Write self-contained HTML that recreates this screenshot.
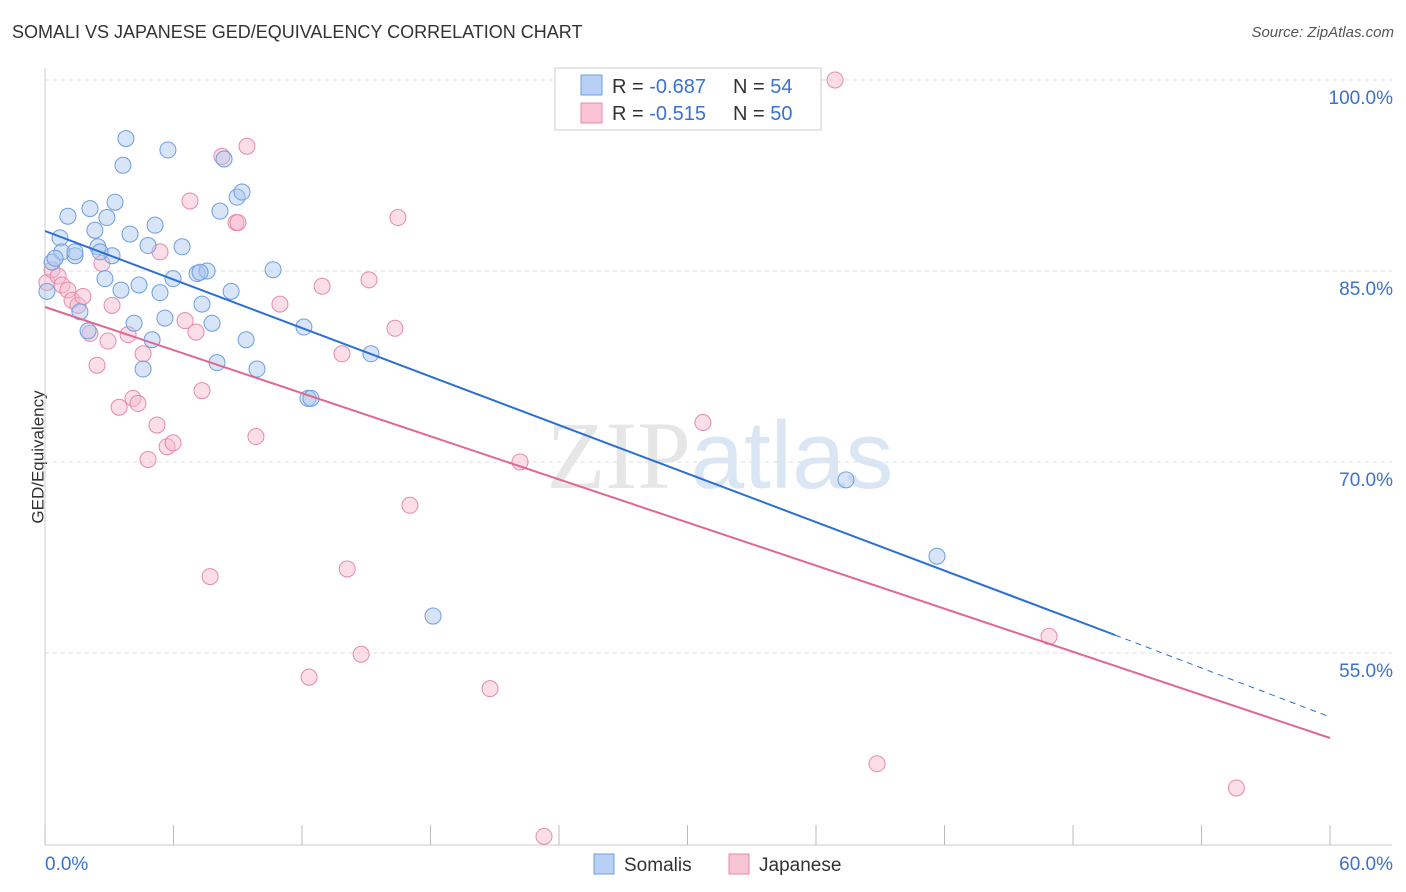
<!DOCTYPE html>
<html><head><meta charset="utf-8">
<style>
body{margin:0;background:#fff;font-family:"Liberation Sans",sans-serif;}
#wrap{position:relative;width:1406px;height:892px;overflow:hidden;}
.t{position:absolute;white-space:nowrap;}
</style></head>
<body><div id="wrap">
<div class="t" style="left:12px;top:22px;font-size:18px;color:#333;">SOMALI VS JAPANESE GED/EQUIVALENCY CORRELATION CHART</div>
<div class="t" style="right:12px;top:24px;font-size:15px;color:#555;font-style:italic;">Source: ZipAtlas.com</div>
<div class="t" style="left:-28px;top:447px;font-size:17px;color:#333;transform:rotate(-90deg);">GED/Equivalency</div>
<svg id="svg" width="1406" height="892" style="position:absolute;left:0;top:0"></svg>
</div>
<script>
const yTicks=[100,85,70,55];
const yTickLabels=["100.0%","85.0%","70.0%","55.0%"];
const xTickLabels=["0.0%","60.0%"];
const somaliX=[0.09,0.33,0.70,0.79,1.07,1.40,2.01,2.10,2.33,2.47,2.80,2.89,3.13,3.27,3.55,3.64,3.78,3.97,4.16,4.39,4.58,4.81,5.00,5.14,5.37,5.60,5.74,5.98,6.40,7.10,7.33,7.57,7.80,8.03,8.17,8.36,8.69,8.97,9.20,9.39,9.90,10.65,12.09,12.28,12.42,15.22,18.12,37.40,41.65,1.63,0.47,7.24,1.40,2.57];
const somaliY=[83.4,85.7,87.6,86.5,89.3,86.2,80.3,89.9,88.2,86.9,84.4,89.2,86.2,90.4,83.5,93.3,95.4,87.9,80.9,83.9,77.3,87.0,79.6,88.6,83.3,81.3,94.5,84.4,86.9,84.8,82.4,85.0,80.9,77.8,89.7,93.8,83.4,90.8,91.2,79.6,77.3,85.1,80.6,75.0,75.0,78.5,57.9,68.6,62.6,81.8,86.0,84.9,86.5,86.5];
const japX=[0.09,0.33,0.61,0.79,1.07,1.26,1.54,1.77,2.10,2.43,2.66,2.94,3.13,3.46,3.88,4.11,4.34,4.58,4.81,5.23,5.37,5.70,5.98,6.54,6.77,7.05,7.33,7.71,8.26,8.92,9.01,9.43,9.85,10.97,12.33,12.94,13.87,14.11,14.76,15.13,16.34,16.48,17.04,20.78,22.18,23.30,30.72,36.89,38.85,46.88,55.63];
const japY=[84.1,85.1,84.6,83.9,83.5,82.7,82.3,83.0,80.1,77.6,85.6,79.5,82.3,74.3,80.0,75.0,74.6,78.5,70.2,72.9,86.5,71.2,71.5,81.1,90.5,80.2,75.6,61.0,94.0,88.8,88.8,94.8,72.0,82.4,53.1,83.8,78.5,61.6,54.9,84.3,80.5,89.2,66.6,52.2,70.0,40.6,73.1,100.0,46.3,56.3,44.4];
const S=document.getElementById('svg'),NS='http://www.w3.org/2000/svg';
const X=v=>45+v/60*1285, Y=v=>80+(100-v)*12.733;
function mk(t,a,name,parent){const e=document.createElementNS(NS,t);for(const k in a)e.setAttribute(k,a[k]);


(parent||S).appendChild(e);return e;}
yTicks.forEach((v,i)=>{mk('line',{x1:45,x2:1392,y1:Y(v),y2:Y(v),stroke:'#ddd','stroke-dasharray':'4,4'},'gridline');
const t=mk('text',{x:1393,y:Y(v)+24,'text-anchor':'end','font-size':19,fill:'#3a72d0'},'y-tick-label');t.textContent=yTickLabels[i];});
mk('line',{x1:45,x2:45,y1:68,y2:845,stroke:'#ccc'},'y-axis');
mk('line',{x1:45,x2:1392,y1:845,y2:845,stroke:'#ccc'},'x-axis');
for(let i=0;i<=10;i++){mk('line',{x1:X(i*6),x2:X(i*6),y1:825,y2:845,stroke:'#bbb'},'x-tick');}
let t=mk('text',{x:45,y:870,'font-size':19,fill:'#3a72d0'},'x-tick-label');t.textContent=xTickLabels[0];
t=mk('text',{x:1393,y:870,'text-anchor':'end','font-size':19,fill:'#3a72d0'},'x-tick-label');t.textContent=xTickLabels[1];
t=mk('text',{x:720,y:488,'text-anchor':'middle','font-size':96,fill:'#e6e6e6','font-family':'Liberation Serif'},'watermark');t.innerHTML='ZIP<tspan fill="#dbe6f5" font-family="Liberation Sans">atlas</tspan>';
function pts(xs,ys,fill,stroke,name){xs.forEach((x,i)=>mk('circle',{cx:X(x),cy:Y(ys[i]),r:8,fill:fill,'fill-opacity':0.45,stroke:stroke,'stroke-width':1},name));}
pts(japX,japY,'#f7b6cb','#e68aa8','japanese-point');
pts(somaliX,somaliY,'#a9c6f0','#6e9ee0','somali-point');
mk('line',{x1:45,y1:231,x2:1115,y2:635,stroke:'#2a6fd6','stroke-width':2},'somali-trend-line');
mk('line',{x1:1115,y1:635,x2:1330,y2:717,stroke:'#2a6fd6','stroke-width':1,'stroke-dasharray':'6,5'},'somali-trend-extension');
mk('line',{x1:45,y1:307,x2:1330,y2:738,stroke:'#e06890','stroke-width':2},'japanese-trend-line');
// legend
mk('rect',{x:555,y:68,width:266,height:62,fill:'#fff',stroke:'#ccc'},'legend-box');
mk('rect',{x:581,y:75,width:21,height:20,fill:'#b8d0f3',stroke:'#6e9ee0'},'legend-swatch-somali');
mk('rect',{x:581,y:103,width:21,height:20,fill:'#f9c4d4',stroke:'#e68aa8'},'legend-swatch-japanese');
[['R = ','-0.687','N = ','54',93],['R = ','-0.515','N = ','50',120]].forEach(r=>{
let e=mk('text',{x:612,y:r[4],'font-size':20,fill:'#333'},'legend-text');e.innerHTML=r[0]+'<tspan fill="#3a72d0">'+r[1]+'</tspan>';
e=mk('text',{x:733,y:r[4],'font-size':20,fill:'#333'},'legend-text');e.innerHTML=r[2]+'<tspan fill="#3a72d0">'+r[3]+'</tspan>';});
mk('rect',{x:594,y:854,width:20,height:20,fill:'#b8d0f3',stroke:'#6e9ee0'},'bottom-legend-swatch-somali');
t=mk('text',{x:624,y:871,'font-size':19,fill:'#333'},'bottom-legend-somalis');t.textContent='Somalis';
mk('rect',{x:729,y:854,width:20,height:20,fill:'#f9c4d4',stroke:'#e68aa8'},'bottom-legend-swatch-japanese');
t=mk('text',{x:759,y:871,'font-size':19,fill:'#333'},'bottom-legend-japanese');t.textContent='Japanese';
</script></body></html>
